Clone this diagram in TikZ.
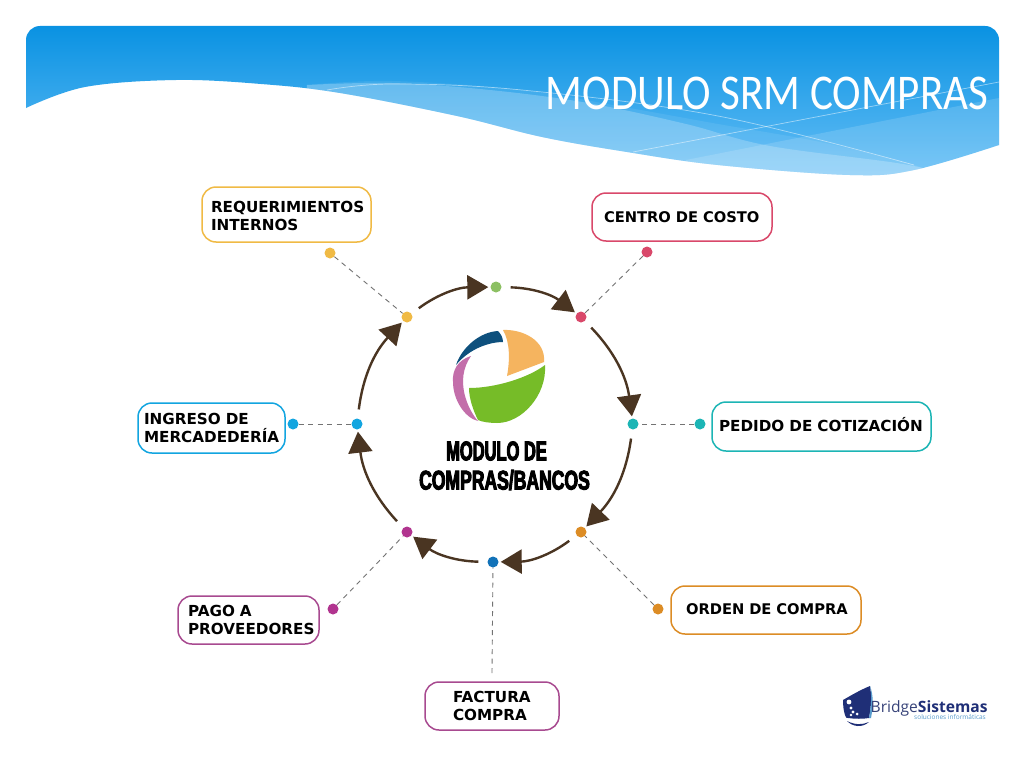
\documentclass[tikz,border=0pt]{standalone}
\usepackage{fontspec}
\usetikzlibrary{arrows.meta,shadings}
\setmainfont{DejaVu Sans}
\newfontfamily\titlefont[FakeStretch=0.86]{Carlito}
\newfontfamily\impfonta[FakeBold=3.5,FakeStretch=0.61]{Liberation Sans Bold}
\newfontfamily\impfontb[FakeBold=3.5,FakeStretch=0.65]{Liberation Sans Bold}
\newfontfamily\brandfont{Open Sans}
\definecolor{cyellow}{HTML}{F0BA45}
\definecolor{cred}{HTML}{D9486A}
\definecolor{cgreen}{HTML}{8CC063}
\definecolor{cteal}{HTML}{1CB5B5}
\definecolor{corange}{HTML}{DC8C25}
\definecolor{cblue}{HTML}{1272B8}
\definecolor{cmagenta}{HTML}{B1348F}
\definecolor{cplum}{HTML}{A84A90}
\definecolor{csky}{HTML}{12A5E0}
\definecolor{cbrown}{HTML}{4A3522}
\definecolor{cnavy}{HTML}{1F2F77}
\newcommand{\pad}[1]{\hspace*{#1pt}}
\tikzset{
  dot/.style={circle,fill=#1,inner sep=0pt,minimum size=11pt},
  cardbox/.style={draw=#1,line width=1.5pt,rounded corners=14pt,fill=white,inner ysep=0pt,inner xsep=0pt,
     font=\bfseries\fontsize{15.2}{18}\selectfont,align=left,text=black},
  cardsmall/.style={font=\bfseries\fontsize{14.7}{18}\selectfont},
  cyc/.style={draw=cbrown,line width=2.4pt,-{Triangle[length=21pt,width=24pt]},bend left=18,shorten >=2pt,shorten <=9pt},
  guide/.style={draw=black!55,line width=0.9pt,dash pattern=on 5pt off 4.5pt}
}
\begin{document}
\begin{tikzpicture}[x=1pt,y=-1pt]
\useasboundingbox (0,0) rectangle (1024,768);
\fill[white] (0,0) rectangle (1024,768);
% header
\begin{scope}
\clip (26,108) -- (26,40) arc[start angle=180,end angle=90,radius=14pt] -- (985,26) arc[start angle=90,end angle=0,radius=14pt] -- (999,145)
  -- plot[smooth,tension=0.6] coordinates {(999,145)(914,170)(850,175)(718,165)(627,152)(542,137)(457,116)(340,93)(261,84)(176,80)(85,87)(26,108)} -- cycle;
\shade[top color={rgb,255:red,10;green,146;blue,226},bottom color={rgb,255:red,100;green,190;blue,246}] (20,26) rectangle (1005,176);
% light band
\fill[white,opacity=0.22] plot[smooth,tension=0.6] coordinates {(307,85)(392,83)(490,90)(588,103)(686,124)(770,146)(914,166)(960,185)} -- (300,185) -- cycle;
\fill[white,opacity=0.08] plot[smooth,tension=0.6] coordinates {(307,85)(392,81)(522,90)(618,106)(718,124)(820,142)(914,165)(960,185)} -- (300,185) -- cycle;
\fill[white,opacity=0.14] (686,160) -- (999,98) -- (999,180) -- (686,180) -- cycle;
\draw[white,opacity=0.5,line width=0.7pt] (633,152) -- (999,82);
\draw[white,opacity=0.5,line width=0.7pt] plot[smooth,tension=0.6] coordinates {(327,90)(392,84)(522,90)(718,116)(914,165)};
\end{scope}
\node[font=\titlefont\fontsize{50}{50}\selectfont,text=white,inner sep=0pt,anchor=center] (title) at (767,93) {MODULO SRM COMPRAS};
% boxes
\node[cardbox=cyellow,minimum height=55pt,text width=169pt] (req) at (286.5,214.5) {\rule{0pt}{15pt}\pad{9}REQUERIMIENTOS\\\pad{9}INTERNOS};
\node[cardbox=cred,cardsmall,minimum height=48pt,text width=180pt] (cc) at (682,217) {\pad{12}CENTRO DE COSTO};
\node[cardbox=cteal,minimum height=49pt,text width=219pt] (ped) at (821.5,426.5) {\pad{7}PEDIDO DE COTIZACIÓN\rule[-4pt]{0pt}{4pt}};
\node[cardbox=corange,cardsmall,minimum height=48pt,text width=190pt] (ord) at (766,610) {\pad{15}ORDEN DE COMPRA\rule[-2pt]{0pt}{2pt}};
\node[cardbox=cplum,minimum height=48pt,text width=134pt] (fac) at (492,706) {\pad{28}FACTURA\\\pad{28}COMPRA};
\node[cardbox=cplum,minimum height=48pt,text width=141pt] (pago) at (248.5,620) {\pad{10}PAGO A\\\pad{10}PROVEEDORES};
\node[cardbox=csky,minimum height=50pt,text width=147pt] (ing) at (211.5,428) {\pad{6}INGRESO DE\\\pad{6}MERCADEDERÍA};
% inner dots
\node[dot=cgreen] (dT) at (496,287) {};
\node[dot=cred] (dNE) at (581,317) {};
\node[dot=cteal] (dE) at (633,424) {};
\node[dot=corange] (dSE) at (581,532) {};
\node[dot=cblue] (dS) at (493,562) {};
\node[dot=cmagenta] (dSW) at (407,532) {};
\node[dot=csky] (dW) at (357,424) {};
\node[dot=cyellow] (dNW) at (407,317) {};
% outer dots
\node[dot=cyellow] (oNW) at (330,253) {};
\node[dot=cred] (oNE) at (647,252) {};
\node[dot=cteal] (oE) at (700,424) {};
\node[dot=corange] (oSE) at (658,609) {};
\node[dot=cmagenta] (oSW) at (333,609) {};
\node[dot=csky] (oW) at (293,424) {};
\coordinate (oS) at (492,673);
% guides
\draw[guide] (oNW) -- (dNW);
\draw[guide] (oNE) -- (dNE);
\draw[guide] (oE) -- (dE);
\draw[guide] (oSE) -- (dSE);
\draw[guide] (oSW) -- (dSW);
\draw[guide] (oW) -- (dW);
\draw[guide] (oS) -- (dS);
% cycle
\draw[cyc] (dT) to (dNE);
\draw[cyc] (dNE) to (dE);
\draw[cyc] (dE) to (dSE);
\draw[cyc] (dSE) to (dS);
\draw[cyc] (dS) to (dSW);
\draw[cyc] (dSW) to (dW);
\draw[cyc] (dW) to (dNW);
\draw[cyc] (dNW) to (dT);
% centre logo
\fill[color={rgb,255:red,245;green,180;blue,95}] (503,330) .. controls (522,329) and (546,340) .. (544,362) -- (507,376) .. controls (510,360) and (510,342) .. (503,330) -- cycle;
\fill[color={rgb,255:red,14;green,80;blue,125}] (456,365) .. controls (462,347) and (480,332) .. (498,331) .. controls (501,334) and (503,338) .. (503,342) .. controls (490,342) and (470,348) .. (456,365) -- cycle;
\fill[color={rgb,255:red,195;green,110;blue,170}] (471,356) .. controls (458,360) and (452,370) .. (453,382) .. controls (453,400) and (465,418) .. (478,421) .. controls (468,410) and (454,380) .. (471,356) -- cycle;
\fill[color={rgb,255:red,118;green,188;blue,40}] (545,365) .. controls (547,395) and (522,423) .. (497,423) .. controls (490,423) and (482,422) .. (478,420) .. controls (473,410) and (469,398) .. (469,388) .. controls (495,388) and (528,378) .. (545,365) -- cycle;
\node[font=\impfonta\fontsize{27}{27}\selectfont,inner sep=0pt,anchor=center] (lg1) at (496.5,451) {MODULO DE};
\node[font=\impfontb\fontsize{27}{27}\selectfont,inner sep=0pt,anchor=center] (lg2) at (504.5,480) {COMPRAS/BANCOS};
% bridge logo
\fill[cnavy] (870,686) .. controls (860,690) and (850,696) .. (843,700) .. controls (843,712) and (846,720) .. (848,718) .. controls (855,719) and (863,719) .. (869,718) .. controls (871,707) and (872,697) .. (870,686) -- cycle;
\fill[color=cblue!70] (870,686) .. controls (872,697) and (871,707) .. (869,718) -- (871,718) .. controls (873,707) and (874,697) .. (870,686) -- cycle;
\foreach \p/\r in {{849,702}/2.4,{851,708}/1.7,{853,712}/1.6,{857,714}/1.5,{851,715}/1.3}{\fill[white] (\p) circle[radius=\r pt];}
\fill[cnavy] (847,721) .. controls (855,725) and (862,725) .. (869,722) .. controls (862,728) and (853,727) .. (847,721) -- cycle;
\node[font=\brandfont\fontsize{15.6}{15.6}\selectfont,text=cnavy!75!gray,inner sep=0pt,anchor=base west] (brand) at (870.5,712) {Bridge\textbf{\textcolor{cnavy}{Sistemas}}};
\node[font=\brandfont\fontsize{6.5}{6.5}\selectfont,text=cblue!70,inner sep=0pt,anchor=base east] (brand2) at (986,719) {soluciones informáticas};
\end{tikzpicture}
\end{document}
